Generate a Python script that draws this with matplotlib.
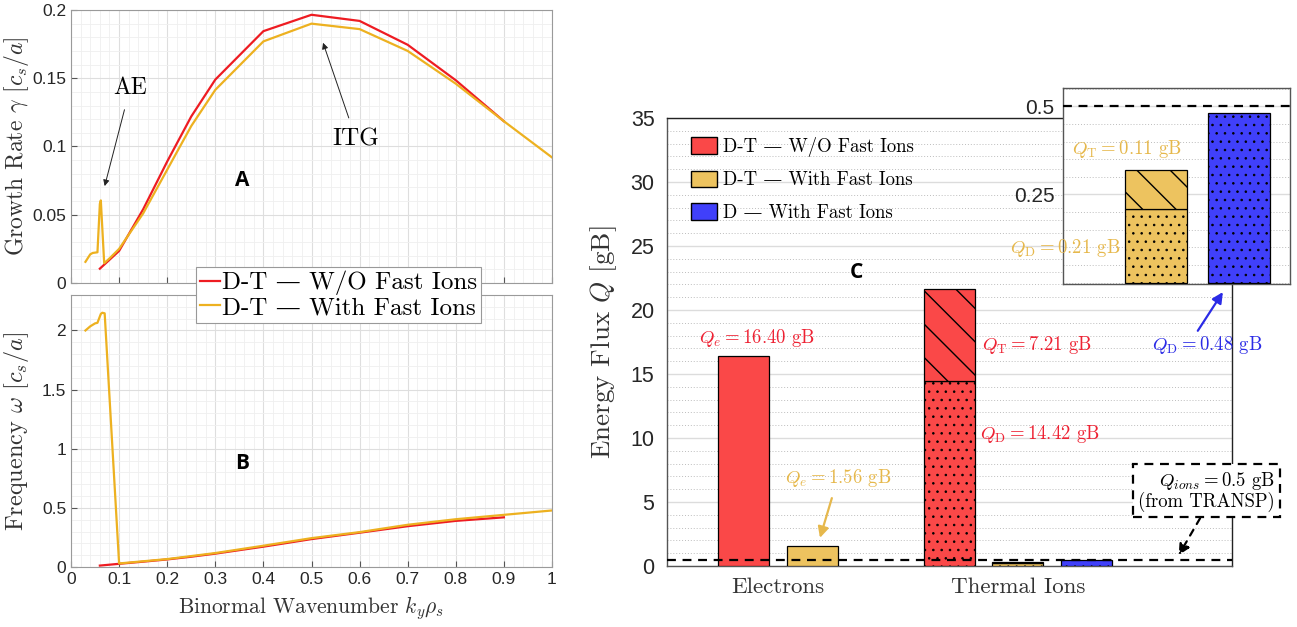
import matplotlib
matplotlib.use("Agg")
import matplotlib.pyplot as plt
from matplotlib.ticker import MultipleLocator, FixedLocator, FuncFormatter

plt.rcParams['mathtext.fontset'] = 'cm'
plt.rcParams['hatch.linewidth'] = 1.0
plt.rcParams['axes.unicode_minus'] = False

SERIF = ['cmr10', 'DejaVu Serif']
SANS = ['Liberation Sans', 'DejaVu Sans']
BOLD = ['Open Sans', 'DejaVu Sans']

# ---- linear growth-rate / frequency scans ----
ky_dt = [0.06, 0.1, 0.15, 0.2, 0.25, 0.3, 0.4, 0.5, 0.6, 0.7, 0.8, 0.9]
gamma_dt = [0.0105, 0.0235, 0.054, 0.089, 0.122, 0.149, 0.1845, 0.1965,
            0.192, 0.1745, 0.1485, 0.1185]
omega_dt = [0.012, 0.027, 0.045, 0.064, 0.087, 0.113, 0.172, 0.236,
            0.29, 0.345, 0.39, 0.42]

ky_fi_gamma = [0.03, 0.04, 0.045, 0.055, 0.06, 0.062, 0.069, 0.08, 0.1,
               0.15, 0.2, 0.25, 0.3, 0.4, 0.5, 0.6, 0.7, 0.8, 0.9, 1.0]
gamma_fi = [0.0155, 0.021, 0.022, 0.0225, 0.058, 0.0605, 0.0145, 0.018,
            0.025, 0.051, 0.083, 0.115, 0.1415, 0.177, 0.190, 0.186, 0.170,
            0.146, 0.1185, 0.092]

ky_fi_omega = [0.03, 0.04, 0.05, 0.055, 0.062, 0.065, 0.07, 0.1, 0.2, 0.3,
               0.4, 0.5, 0.6, 0.7, 0.8, 0.9, 1.0]
omega_fi = [2.0, 2.035, 2.06, 2.065, 2.14, 2.15, 2.145, 0.03, 0.067, 0.118,
            0.18, 0.244, 0.295, 0.357, 0.404, 0.441, 0.478]

# ---- nonlinear energy fluxes [gB] ----
flux_groups = ['Electrons', 'Thermal Ions']
case_labels = ['D-T — W/O Fast Ions', 'D-T — With Fast Ions', 'D — With Fast Ions']
q_electrons = [16.40, 1.56]          # D-T w/o FI, D-T with FI
q_ion_D = [14.42, 0.21, 0.48]        # D-T w/o FI, D-T with FI, D with FI
q_ion_T = [7.21, 0.11, 0.0]
q_transp = 0.5

RED_LINE = '#EE1C22'
YEL_LINE = '#EDB120'
RED_BAR = '#FA4848'
YEL_BAR = '#EDC35F'
BLU_BAR = '#4040FA'
RED_TXT = '#EE2233'
YEL_TXT = '#E6B84C'
BLU_TXT = '#2B2BE6'
case_colors = [RED_BAR, YEL_BAR, BLU_BAR]

W, H = 1297, 627
fig = plt.figure(figsize=(W / 100, H / 100), dpi=100)


def px_axes(x0, y0, x1, y1):
    return fig.add_axes([x0 / W, 1 - y1 / H, (x1 - x0) / W, (y1 - y0) / H])


def g_fmt(v, _):
    return f'{v:g}'


def style_line_axes(ax):
    ax.set_xlim(0, 1)
    ax.xaxis.set_major_locator(MultipleLocator(0.1))
    ax.xaxis.set_minor_locator(MultipleLocator(0.02))
    ax.xaxis.set_major_formatter(FuncFormatter(g_fmt))
    ax.yaxis.set_major_formatter(FuncFormatter(g_fmt))
    ax.grid(True, which='major', color='#dedede', lw=0.8)
    ax.grid(True, which='minor', color='#efefef', lw=0.6)
    ax.set_axisbelow(True)
    for s in ax.spines.values():
        s.set_color('#9a9a9a')
        s.set_linewidth(0.8)
    ax.tick_params(which='both', direction='in', colors='#555555',
                   labelcolor='#262626', labelsize=12.5)
    ax.tick_params(which='minor', length=0)
    ax.tick_params(which='major', length=4)
    for lab in ax.get_xticklabels() + ax.get_yticklabels():
        lab.set_family(SANS)


def set_hatch_lw(bars, lw):
    for p in bars:
        if hasattr(p, 'set_hatch_linewidth'):
            p.set_hatch_linewidth(lw)


# ---------------- panel A: growth rate ----------------
ax_a = px_axes(71, 10, 552, 283)
ax_a.plot(ky_dt, gamma_dt, color=RED_LINE, lw=1.6, label='D-T — W/O Fast Ions')
ax_a.plot(ky_fi_gamma, gamma_fi, color=YEL_LINE, lw=1.6, label='D-T — With Fast Ions')
ax_a.set_ylim(0, 0.2)
ax_a.yaxis.set_major_locator(FixedLocator([0, 0.05, 0.1, 0.15, 0.2]))
ax_a.yaxis.set_minor_locator(MultipleLocator(0.01))
style_line_axes(ax_a)
ax_a.tick_params(axis='x', labelbottom=False)
ax_a.set_ylabel(r'Growth Rate $\gamma$ $[c_s/a]$', family=SERIF, fontsize=17,
                color='#333333')
ax_a.yaxis.set_label_coords(-0.083, 0.5)
ax_a.annotate('AE', xy=(0.07, 0.071), xytext=(0.123, 0.143), family=SERIF,
              fontsize=17, ha='center', va='center',
              arrowprops=dict(arrowstyle='-|>', color='#222222', lw=0.7,
                              mutation_scale=9, shrinkA=6, shrinkB=0))
ax_a.annotate('ITG', xy=(0.524, 0.176), xytext=(0.593, 0.105), family=SERIF,
              fontsize=18, ha='center', va='center',
              arrowprops=dict(arrowstyle='-|>', color='#222222', lw=0.7,
                              mutation_scale=9, shrinkA=6, shrinkB=0))
ax_a.text(0.355, 0.075, 'A', family=BOLD, fontweight='bold', fontsize=15,
          ha='center', va='center')

# ---------------- panel B: real frequency ----------------
ax_b = px_axes(71, 295, 552, 567)
ax_b.plot(ky_dt, omega_dt, color=RED_LINE, lw=1.6)
ax_b.plot(ky_fi_omega, omega_fi, color=YEL_LINE, lw=1.6)
ax_b.set_ylim(0, 2.3)
ax_b.yaxis.set_major_locator(FixedLocator([0, 0.5, 1, 1.5, 2]))
ax_b.yaxis.set_minor_locator(MultipleLocator(0.1))
style_line_axes(ax_b)
ax_b.set_ylabel(r'Frequency $\omega$ $[c_s/a]$', family=SERIF, fontsize=17.5,
                color='#333333')
ax_b.yaxis.set_label_coords(-0.083, 0.5)
ax_b.set_xlabel(r'Binormal Wavenumber $k_y\rho_s$', family=SERIF, fontsize=15.5,
                color='#333333', labelpad=5)
ax_b.text(0.355, 0.877, 'B', family=BOLD, fontweight='bold', fontsize=15,
          ha='center', va='center')

handles, labels = ax_a.get_legend_handles_labels()
leg = fig.legend(handles, labels, loc='center',
                 bbox_to_anchor=((196 + 481) / 2 / W, 1 - (262 + 328) / 2 / H),
                 prop={'family': SERIF, 'size': 18}, frameon=True, fancybox=False,
                 edgecolor='#999999', framealpha=1, handlelength=0.8,
                 handletextpad=0.1, borderpad=0.15, labelspacing=0.05,
                 borderaxespad=0)
leg.get_frame().set_linewidth(0.8)

# ---------------- panel C: energy fluxes ----------------
ax_c = px_axes(667, 118, 1232, 566)
group_x = [1, 2]
dx = 0.285
bw = 0.2125

# electrons
e_pos = [group_x[0] - dx / 2, group_x[0] + dx / 2]
ax_c.bar(e_pos, q_electrons, width=bw, color=case_colors[:2], edgecolor='black',
         lw=0.9, zorder=3)
# thermal ions: deuterium (dots) with tritium (hatched) stacked on top
i_pos = [group_x[1] - dx, group_x[1], group_x[1] + dx]
dots = ax_c.bar(i_pos, q_ion_D, width=bw, color=case_colors, edgecolor='black',
                lw=0.9, hatch='..', zorder=3)
set_hatch_lw(dots, 0.6)
ax_c.bar(i_pos[:2], q_ion_T[:2], bottom=q_ion_D[:2], width=bw,
         color=case_colors[:2], edgecolor='black', lw=0.9, hatch='\\', zorder=3)
ax_c.axhline(q_transp, color='black', ls=(0, (4, 3)), lw=1.6, zorder=4)

ax_c.set_xlim(0.5375, 2.892)
ax_c.set_ylim(0, 35)
ax_c.set_xticks(group_x)
ax_c.set_xticklabels(flux_groups, family=SERIF, fontsize=16.5, color='#333333')
ax_c.yaxis.set_major_locator(MultipleLocator(5))
ax_c.yaxis.set_minor_locator(MultipleLocator(1))
ax_c.yaxis.set_major_formatter(FuncFormatter(g_fmt))
ax_c.grid(True, axis='y', which='major', color='#dcdcdc', lw=1.0)
ax_c.grid(True, axis='y', which='minor', color='#bdbdbd', lw=0.7, ls=(0, (1, 2)))
ax_c.set_axisbelow(True)
ax_c.tick_params(axis='x', length=0, pad=8)
ax_c.tick_params(axis='y', which='major', direction='in', length=0, pad=9,
                 labelsize=15.5, labelcolor='#262626')
ax_c.tick_params(axis='y', which='minor', length=0)
for lab in ax_c.get_yticklabels():
    lab.set_family(SANS)
for name, s in ax_c.spines.items():
    s.set_color('#555555' if name in ('left', 'bottom') else '#222222')
    s.set_linewidth(1.0)
ax_c.set_ylabel(r'Energy Flux $Q$ [gB]', family=SERIF, fontsize=19.5,
                color='#333333', labelpad=8)

legend_patches = [plt.Rectangle((0, 0), 1, 1, facecolor=c, edgecolor='black',
                                lw=1.0) for c in case_colors]
ax_c.legend(legend_patches, case_labels, loc='upper left',
            bbox_to_anchor=(0.012, 0.995), frameon=False,
            prop={'family': SERIF, 'size': 13.5}, handlelength=1.4,
            handleheight=1.0, handletextpad=0.3, labelspacing=0.72)

ax_c.text(1.329, 22.9, 'C', family=BOLD, fontweight='bold', fontsize=15,
          ha='center', va='center')

ax_c.text(0.9125, 17.8, rf'$Q_e = {q_electrons[0]:.2f}$ gB', color=RED_TXT,
          family=SERIF, fontsize=13.5, ha='center', va='center')
ax_c.annotate(rf'$Q_e = {q_electrons[1]:.2f}$ gB', xy=(1.175, 2.2),
              xytext=(1.25, 6.9), color=YEL_TXT, family=SERIF, fontsize=13.5,
              ha='center', va='center',
              arrowprops=dict(arrowstyle='-|>', color=YEL_TXT, lw=1.6,
                              mutation_scale=16, shrinkA=5, shrinkB=0))
ax_c.text(1.85, 17.3, rf'$Q_\mathrm{{T}} = {q_ion_T[0]:.2f}$ gB', color=RED_TXT,
          family=SERIF, fontsize=13.5, ha='left', va='center')
ax_c.text(1.842, 10.3, rf'$Q_\mathrm{{D}} = {q_ion_D[0]:.2f}$ gB', color=RED_TXT,
          family=SERIF, fontsize=13.5, ha='left', va='center')
ax_c.annotate(rf'$Q_\mathrm{{D}} = {q_ion_D[2]:.2f}$ gB', xy=(2.854, 21.4),
              xytext=(2.558, 17.3), color=BLU_TXT, family=SERIF, fontsize=13.5,
              ha='left', va='center',
              arrowprops=dict(arrowstyle='-|>', color=BLU_TXT, lw=1.6,
                              mutation_scale=16, shrinkA=0, shrinkB=0,
                              relpos=(0.4, 1.0)))

ax_c.annotate(rf'$Q_{{ions}} = {q_transp}$ gB' + '\n(from TRANSP)',
              xy=(2.67, 0.85), xytext=(3.07, 5.85), family=SERIF,
              fontsize=13.5, ha='right', va='center', multialignment='right',
              linespacing=1.0, annotation_clip=False, zorder=6,
              bbox=dict(boxstyle='square,pad=0.28', facecolor='white',
                        edgecolor='black', lw=1.6, ls=(0, (4, 3))),
              arrowprops=dict(arrowstyle='-|>', color='black', lw=1.6,
                              ls=(0, (3, 3)), mutation_scale=16,
                              shrinkA=0, shrinkB=0, relpos=(0.48, 0.0)))

# ---------------- inset: fast-ion cases zoomed ----------------
ax_in = px_axes(1063, 88, 1290, 284)
in_pos = [1, 2]
dots_in = ax_in.bar(in_pos, q_ion_D[1:], width=0.747, color=case_colors[1:],
                    edgecolor='black', lw=0.9, hatch='..', zorder=3)
set_hatch_lw(dots_in, 0.6)
ax_in.bar(in_pos[:1], q_ion_T[1:2], bottom=q_ion_D[1:2], width=0.747,
          color=case_colors[1:2], edgecolor='black', lw=0.9, hatch='\\', zorder=3)
ax_in.axhline(q_transp, color='black', ls=(0, (4, 3)), lw=1.6, zorder=4)
ax_in.set_xlim(-0.12, 2.614)
ax_in.set_ylim(-0.004, 0.552)
ax_in.set_xticks([])
ax_in.yaxis.set_major_locator(FixedLocator([0.25, 0.5]))
ax_in.yaxis.set_minor_locator(MultipleLocator(0.05))
ax_in.yaxis.set_major_formatter(FuncFormatter(g_fmt))
ax_in.grid(True, axis='y', which='major', color='#dcdcdc', lw=1.0)
ax_in.grid(True, axis='y', which='minor', color='#bdbdbd', lw=0.7, ls=(0, (1, 2)))
ax_in.set_axisbelow(True)
ax_in.tick_params(axis='y', which='both', length=0, labelsize=15, pad=6,
                  labelcolor='#262626')
for lab in ax_in.get_yticklabels():
    lab.set_family(SANS)
for s in ax_in.spines.values():
    s.set_color('#555555')
    s.set_linewidth(1.0)

fig.text(1072 / W, 1 - 149 / H, rf'$Q_\mathrm{{T}} = {q_ion_T[1]:.2f}$ gB',
         color=YEL_TXT, family=SERIF, fontsize=13.5, ha='left', va='center')
fig.text(1010 / W, 1 - 248 / H, rf'$Q_\mathrm{{D}} = {q_ion_D[1]:.2f}$ gB',
         color=YEL_TXT, family=SERIF, fontsize=13.5, ha='left', va='center',
         zorder=10)

fig.savefig('out.png', dpi=100)
